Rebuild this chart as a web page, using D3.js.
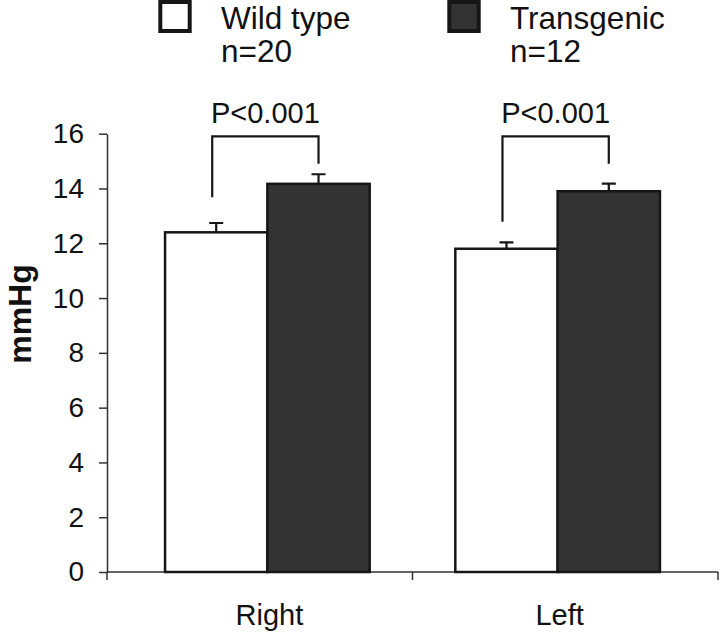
<!DOCTYPE html>
<html><head><meta charset="utf-8">
<script src="https://cdn.jsdelivr.net/npm/d3@7/dist/d3.min.js"></script>
<style>
html,body{margin:0;padding:0;background:#fff;}
svg{display:block;font-family:"Liberation Sans",Arial,sans-serif;}
</style></head>
<body><svg id="c" width="720" height="632"></svg>
<script>
const categories = ["Right", "Left"];
const seriesNames = ["Wild type", "Transgenic"];
const seriesN = ["n=20", "n=12"];
const wildType = [12.4, 11.8];
const wildTypeErr = [0.34, 0.23];
const transgenic = [14.17, 13.9];
const transgenicErr = [0.35, 0.28];
const yTicks = [0, 2, 4, 6, 8, 10, 12, 14, 16];
const pLabels = ["P<0.001", "P<0.001"];
const bracketTop = [15.9, 15.9];
const bracketLeftEnd = [13.68, 12.79];
const bracketRightEnd = [14.9, 14.9];

const svg = d3.select("#c");
const ink = "#161616";
const dark = "#333333";

const y = d3.scaleLinear().domain([0, 16]).range([572, 133.7]);
const x0 = d3.scaleBand().domain(categories).range([107, 718]).paddingInner(0.295).paddingOuter(0.2);
const x1 = d3.scaleBand().domain(seriesNames).range([0, x0.bandwidth()]);

// Y axis
const yAxis = svg.append("g").attr("transform", "translate(107,0)")
  .call(d3.axisLeft(y).tickValues(yTicks).tickSize(8).tickSizeOuter(0).tickPadding(15));
yAxis.select(".domain").attr("stroke", "#333").attr("stroke-width", 1.5);
yAxis.selectAll(".tick line").attr("stroke", "#333").attr("stroke-width", 1.5);
yAxis.selectAll(".tick text").attr("font-size", 28).attr("fill", "#111")
  .attr("font-family", "'Liberation Sans',Arial,sans-serif");

// X axis line with boundary ticks
const xr = x0.range();
svg.append("line").attr("x1", xr[0]).attr("x2", xr[1]).attr("y1", y(0)).attr("y2", y(0))
  .attr("stroke", "#333").attr("stroke-width", 1.5);
const bounds = [xr[0], (xr[0] + xr[1]) / 2, xr[1]];
svg.selectAll(".xb").data(bounds).enter().append("line")
  .attr("x1", d => d).attr("x2", d => d).attr("y1", y(0)).attr("y2", y(0) + 8)
  .attr("stroke", "#333").attr("stroke-width", 1.5);

// Category labels
svg.selectAll(".cat").data(categories).enter().append("text")
  .attr("x", d => x0(d) + x0.bandwidth() / 2 + 2).attr("y", 625)
  .attr("text-anchor", "middle").attr("font-size", 29).attr("fill", "#111").text(d => d);

// Bars
const rows = categories.map((c, i) => ({
  cat: c,
  vals: [
    {s: seriesNames[0], v: wildType[i], e: wildTypeErr[i], fill: "#ffffff"},
    {s: seriesNames[1], v: transgenic[i], e: transgenicErr[i], fill: dark}
  ]
}));
const g = svg.selectAll(".grp").data(rows).enter().append("g")
  .attr("transform", d => `translate(${x0(d.cat)},0)`);

g.selectAll(".err").data(d => d.vals).enter().append("path")
  .attr("d", d => {
    const cx = x1(d.s) + x1.bandwidth() / 2;
    const yt = y(d.v + d.e);
    return `M${cx},${y(d.v)}V${yt}M${cx - 7},${yt}H${cx + 7}`;
  })
  .attr("stroke", ink).attr("stroke-width", 2.2).attr("fill", "none");

g.selectAll("rect").data(d => d.vals).enter().append("rect")
  .attr("x", d => x1(d.s)).attr("width", x1.bandwidth())
  .attr("y", d => y(d.v)).attr("height", d => y(0) - y(d.v))
  .attr("fill", d => d.fill).attr("stroke", ink).attr("stroke-width", 2.5);

// Significance brackets
g.append("path")
  .attr("d", (d, i) => {
    const xl = x1(seriesNames[0]) + x1.bandwidth() / 2 - 4;
    const xrr = x1(seriesNames[1]) + x1.bandwidth() / 2;
    return `M${xl},${y(bracketLeftEnd[i])}V${y(bracketTop[i])}H${xrr}V${y(bracketRightEnd[i])}`;
  })
  .attr("stroke", ink).attr("stroke-width", 2.2).attr("fill", "none");
g.append("text")
  .attr("x", (d, i) => (x1(seriesNames[0]) + x1(seriesNames[1]) + x1.bandwidth()) / 2 - 2)
  .attr("y", (d, i) => y(bracketTop[i]) - 13)
  .attr("text-anchor", "middle").attr("font-size", 29).attr("fill", "#111")
  .text((d, i) => pLabels[i]);

// Legend
const legX = [158, 447];
const legFill = ["#ffffff", dark];
const leg = svg.selectAll(".leg").data(seriesNames).enter().append("g")
  .attr("transform", (d, i) => `translate(${legX[i]},0)`);
leg.append("rect").attr("x", 2.3).attr("y", 2).attr("width", 29.4).attr("height", 29)
  .attr("fill", (d, i) => legFill[i]).attr("stroke", ink).attr("stroke-width", 4);
leg.append("text").attr("x", 63).attr("y", 29).attr("font-size", 31.5).attr("fill", "#111").text(d => d);
leg.append("text").attr("x", 63).attr("y", 62).attr("font-size", 31.5).attr("fill", "#111").text((d, i) => seriesN[i]);

// Y label
svg.append("text").attr("transform", "translate(30.5,314) rotate(-90)")
  .attr("text-anchor", "middle").attr("font-size", 32).attr("font-weight", "bold")
  .attr("fill", "#111").text("mmHg");
</script></body></html>
